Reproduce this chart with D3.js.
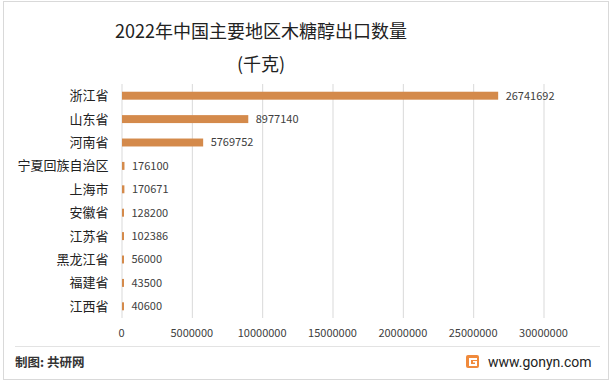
<!DOCTYPE html>
<html>
<head>
<meta charset="utf-8">
<script src="https://cdn.jsdelivr.net/npm/d3@7"></script>
<style>
  body { margin: 0; background: #fff; }
  svg { display: block; font-family: "Noto Sans CJK SC", "Noto Sans", sans-serif; }
</style>
</head>
<body>
<svg id="chart" width="612" height="384"></svg>
<script>
const regions = ['浙江省', '山东省', '河南省', '宁夏回族自治区', '上海市', '安徽省', '江苏省', '黑龙江省', '福建省', '江西省']
const exportsKg = [26741692, 8977140, 5769752, 176100, 170671, 128200, 102386, 56000, 43500, 40600]
const xTicks = [0, 5000000, 10000000, 15000000, 20000000, 25000000, 30000000]

const margin = { top: 84, right: 68, bottom: 66, left: 121.5 }
const W = 612, H = 384
const innerW = W - margin.left - margin.right
const innerH = H - margin.top - margin.bottom

const svg = d3.select('#chart')

// outer frame
svg.append('rect')
  .attr('x', 3.5).attr('y', 1.5)
  .attr('width', 605).attr('height', 378)
  .attr('fill', 'none')
  .attr('stroke', '#d9d9d9')

// title
svg.append('text')
  .attr('x', 261).attr('y', 38)
  .attr('text-anchor', 'middle')
  .attr('font-size', 18)
  .attr('fill', '#222')
  .text('2022年中国主要地区木糖醇出口数量')
svg.append('text')
  .attr('x', 261).attr('y', 71)
  .attr('text-anchor', 'middle')
  .attr('font-size', 18)
  .attr('fill', '#222')
  .text('(千克)')

const g = svg.append('g')
  .attr('transform', `translate(${margin.left},${margin.top})`)

const x = d3.scaleLinear()
  .domain([0, 30000000])
  .range([0, 422])

const y = d3.scaleBand()
  .domain(regions)
  .range([0, innerH])
  .paddingInner(0.66)
  .paddingOuter(0.33)

// gridlines
g.append('g')
  .selectAll('line')
  .data(xTicks)
  .join('line')
    .attr('x1', (d) => x(d) + 0.5)
    .attr('x2', (d) => x(d) + 0.5)
    .attr('y1', 0)
    .attr('y2', innerH)
    .attr('stroke', '#d9d9d9')
    .attr('stroke-width', 1)

// tick labels
g.append('g')
  .selectAll('text')
  .data(xTicks)
  .join('text')
    .attr('x', (d) => x(d))
    .attr('y', innerH + 19)
    .attr('text-anchor', 'middle')
    .attr('font-size', 11)
    .attr('fill', '#404040')
    .text((d) => d)

const data = regions.map((r, i) => ({ region: r, value: exportsKg[i] }))

g.append('g')
  .selectAll('rect')
  .data(data)
  .join('rect')
    .attr('x', 0.5)
    .attr('y', (d) => y(d.region))
    .attr('width', (d) => Math.max(x(d.value), 2))
    .attr('height', y.bandwidth())
    .attr('fill', '#d48a4b')

// value labels
g.append('g')
  .selectAll('text')
  .data(data)
  .join('text')
    .attr('x', (d) => Math.max(x(d.value), 2) + 8)
    .attr('y', (d) => y(d.region) + y.bandwidth() / 2)
    .attr('dy', '0.35em')
    .attr('font-size', 11)
    .attr('fill', '#404040')
    .text((d) => d.value)

// category labels
g.append('g')
  .selectAll('text')
  .data(regions)
  .join('text')
    .attr('x', -13)
    .attr('y', (d) => y(d) + y.bandwidth() / 2)
    .attr('dy', '0.35em')
    .attr('text-anchor', 'end')
    .attr('font-size', 13)
    .attr('fill', '#222')
    .text((d) => d)

// footer
svg.append('line')
  .attr('x1', 15).attr('x2', 600)
  .attr('y1', 346.5).attr('y2', 346.5)
  .attr('stroke', '#e3e3e3')

svg.append('text')
  .attr('x', 15).attr('y', 367)
  .attr('font-size', 12.5)
  .attr('font-weight', 'bold')
  .attr('fill', '#333')
  .text('制图: 共研网')

const logo = svg.append('g').attr('transform', 'translate(466,355)')
logo.append('rect')
  .attr('width', 13).attr('height', 13).attr('rx', 2)
  .attr('fill', '#f08a3c')
logo.append('path')
  .attr('d', 'M3,3 H11 V5 H5 V9 H9 V7.5 H7 V6 H11 V11 H3 Z')
  .attr('fill', '#fff')

svg.append('text')
  .attr('x', 488).attr('y', 367)
  .attr('font-size', 14)
  .attr('fill', '#222')
  .attr('font-family', 'Roboto, "Noto Sans", sans-serif')
  .text('www.gonyn.com')
</script>
</body>
</html>
